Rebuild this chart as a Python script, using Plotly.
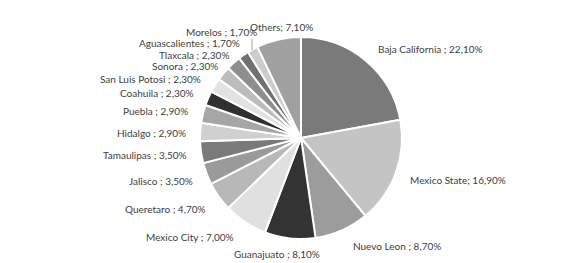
import plotly.graph_objects as go

W, H = 573, 263

states = ["Baja California", "Mexico State", "Nuevo Leon", "Guanajuato", "Mexico City",
          "Queretaro", "Jalisco", "Tamaulipas", "Hidalgo", "Puebla", "Coahuila",
          "San Luis Potosi", "Sonora", "Tlaxcala", "Aguascalientes", "Morelos", "Others"]
shares = [22.1, 16.9, 8.7, 8.1, 7.0, 4.7, 3.5, 3.5, 2.9, 2.9, 2.3, 2.3, 2.3, 2.3, 1.7, 1.7, 7.1]
colors = ["#7a7a7a", "#c4c4c4", "#9c9c9c", "#333333", "#e0e0e0", "#b8b8b8", "#9a9a9a",
          "#7a7a7a", "#d0d0d0", "#a6a6a6", "#303030", "#e2e2e2", "#bcbcbc", "#8e8e8e",
          "#707070", "#cccccc", "#a0a0a0"]
seps = [" ; ", "; ", " ; ", " ; ", " ; ", " ; ", " ; ", " ; ", " ; ", " ; ", " ; ",
        " ; ", " ; ", " ; ", " ; ", " ; ", "; "]

# label anchor positions in pixels (x, y, anchor)
label_pos = [(376, 49, "left"), (408, 180, "left"), (351, 246, "left"), (232, 254, "left"),
             (236, 237, "right"), (208, 209, "right"), (195, 181, "right"), (189, 155, "right"),
             (188, 133, "right"), (190, 111, "right"), (196, 93, "right"), (203, 79, "right"),
             (220, 66, "right"), (231, 55, "right"), (242, 43, "right"), (259, 32, "right"),
             (248, 27, "left")]

cx, cy, r = 301, 138, 101

fig = go.Figure(go.Pie(
    labels=states, values=shares, sort=False, direction="clockwise", rotation=0,
    marker=dict(colors=colors, line=dict(color="white", width=2)),
    textinfo="none", hoverinfo="label+percent",
    domain=dict(x=[(cx - r) / W, (cx + r) / W], y=[(H - cy - r) / H, (H - cy + r) / H]),
    showlegend=False,
))

anns = []
for name, v, sep, (x, y, anc) in zip(states, shares, seps, label_pos):
    txt = f"{name}{sep}{v:.2f}".replace(".", ",") + "%"
    anns.append(dict(x=x / W, y=1 - y / H, xref="paper", yref="paper", text=txt,
                     showarrow=False, xanchor=anc, yanchor="middle",
                     font=dict(family="Lato", size=10, color="#404040")))

fig.update_layout(
    width=W, height=H, margin=dict(l=0, r=0, t=0, b=0),
    paper_bgcolor="white", plot_bgcolor="white",
    annotations=anns,
    shapes=[dict(type="line", xref="paper", yref="paper", x0=252 / W, x1=252 / W,
                 y0=1 - 39 / H, y1=1 - 50 / H, line=dict(color="#a0a0a0", width=1))],
)

fig.write_html("out.html", config={"displayModeBar": False},
               post_script="document.body.style.margin='0';")
